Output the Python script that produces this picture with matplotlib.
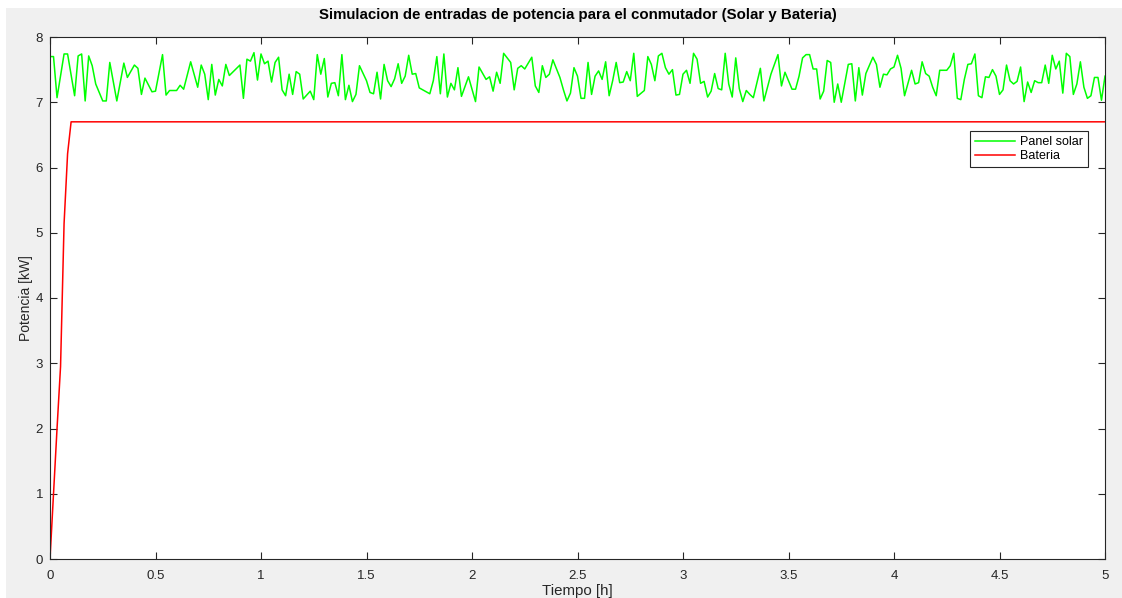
import numpy as np
import matplotlib.pyplot as plt
from matplotlib.patches import Rectangle

# minutos de simulacion y potencia del panel solar [kW]
solar_min = [0, 1, 2, 4, 5, 7, 8, 9, 10, 11, 12, 13, 15, 16, 17, 19, 21, 22, 24, 25,
             26, 27, 29, 30, 32, 33, 34, 36, 37, 38, 40, 42, 43, 44, 45, 46, 47, 48, 49, 50,
             51, 54, 55, 56, 57, 58, 59, 60, 61, 62, 63, 64, 65, 66, 67, 68, 69, 70, 71, 72,
             74, 75, 76, 77, 78, 79, 80, 81, 82, 83, 84, 85, 86, 87, 88, 90, 91, 92, 93, 94,
             95, 96, 97, 98, 99, 100, 101, 102, 103, 104, 105, 107, 108, 109, 110, 111, 112, 113, 114, 115,
             116, 117, 119, 121, 122, 124, 125, 126, 127, 128, 129, 131, 132, 133, 134, 135, 137, 138, 139, 140,
             141, 142, 143, 145, 146, 147, 148, 149, 150, 151, 152, 153, 154, 155, 156, 157, 158, 159, 160, 161,
             162, 163, 164, 165, 166, 167, 169, 170, 171, 172, 173, 174, 175, 176, 177, 178, 179, 180, 181, 182,
             183, 184, 185, 186, 187, 188, 189, 190, 191, 192, 193, 194, 195, 196, 197, 198, 199, 200, 202, 203,
             205, 207, 208, 209, 211, 212, 213, 214, 215, 216, 217, 218, 219, 220, 221, 222, 223, 224, 225, 227,
             228, 229, 230, 231, 232, 234, 235, 236, 237, 238, 239, 240, 241, 242, 243, 245, 246, 247, 248, 249,
             250, 251, 252, 253, 255, 256, 257, 258, 259, 260, 261, 262, 263, 264, 265, 266, 267, 268, 269, 270,
             271, 272, 273, 274, 275, 276, 277, 278, 279, 280, 281, 282, 283, 284, 285, 286, 287, 288, 289, 290,
             291, 292, 293, 294, 295, 296, 297, 298, 299, 300]
solar_kw = [7.70, 7.70, 7.07, 7.74, 7.74, 7.10, 7.71, 7.74, 7.02, 7.71, 7.56, 7.28, 7.02, 7.02, 7.61, 7.02, 7.60, 7.38, 7.57, 7.52,
            7.12, 7.37, 7.16, 7.17, 7.73, 7.11, 7.18, 7.18, 7.26, 7.20, 7.62, 7.23, 7.57, 7.43, 7.04, 7.58, 7.11, 7.35, 7.25, 7.58,
            7.41, 7.57, 7.06, 7.66, 7.63, 7.76, 7.34, 7.74, 7.59, 7.63, 7.31, 7.61, 7.69, 7.19, 7.10, 7.43, 7.12, 7.47, 7.43, 7.05,
            7.17, 7.04, 7.73, 7.43, 7.67, 7.08, 7.29, 7.30, 7.10, 7.73, 7.04, 7.26, 7.01, 7.12, 7.56, 7.33, 7.15, 7.13, 7.46, 7.05,
            7.58, 7.33, 7.24, 7.36, 7.59, 7.29, 7.40, 7.72, 7.43, 7.44, 7.22, 7.16, 7.13, 7.33, 7.70, 7.13, 7.74, 7.08, 7.29, 7.19,
            7.53, 7.09, 7.39, 7.01, 7.54, 7.35, 7.39, 7.17, 7.46, 7.29, 7.75, 7.61, 7.19, 7.52, 7.56, 7.51, 7.69, 7.25, 7.15, 7.56,
            7.38, 7.43, 7.65, 7.38, 7.19, 7.02, 7.14, 7.53, 7.40, 7.06, 7.06, 7.61, 7.12, 7.40, 7.48, 7.35, 7.62, 7.10, 7.33, 7.61,
            7.30, 7.31, 7.47, 7.33, 7.75, 7.09, 7.18, 7.70, 7.58, 7.33, 7.71, 7.75, 7.53, 7.43, 7.50, 7.11, 7.12, 7.43, 7.49, 7.29,
            7.75, 7.66, 7.29, 7.32, 7.08, 7.17, 7.44, 7.21, 7.19, 7.75, 7.28, 7.08, 7.68, 7.21, 7.01, 7.18, 7.12, 7.07, 7.52, 7.02,
            7.43, 7.73, 7.25, 7.46, 7.20, 7.20, 7.40, 7.68, 7.73, 7.73, 7.51, 7.51, 7.05, 7.17, 7.64, 7.61, 7.00, 7.28, 7.00, 7.58,
            7.59, 7.02, 7.53, 7.11, 7.44, 7.69, 7.58, 7.23, 7.43, 7.42, 7.51, 7.54, 7.72, 7.52, 7.10, 7.49, 7.28, 7.30, 7.62, 7.44,
            7.40, 7.23, 7.10, 7.49, 7.49, 7.56, 7.75, 7.06, 7.04, 7.35, 7.58, 7.59, 7.74, 7.10, 7.07, 7.39, 7.38, 7.50, 7.40, 7.12,
            7.19, 7.57, 7.33, 7.28, 7.32, 7.54, 7.01, 7.31, 7.15, 7.33, 7.30, 7.30, 7.57, 7.29, 7.72, 7.51, 7.63, 7.14, 7.75, 7.70,
            7.12, 7.28, 7.62, 7.23, 7.06, 7.10, 7.38, 7.38, 7.03, 7.40]

# bateria: rampa de carga y luego constante
bat_min = [0, 1, 2, 3, 4, 5, 6, 300]
bat_kw = [0.0, 1.0, 2.0, 2.95, 5.14, 6.21, 6.70, 6.70]

t_solar = np.array(solar_min) / 60.0
t_bat = np.array(bat_min) / 60.0

fig = plt.figure(figsize=(11.22, 5.98), dpi=100, facecolor='white')
fig.add_artist(Rectangle((6 / 1122, -0.01), 1.1, 590 / 598 + 0.01, transform=fig.transFigure,
                         facecolor='#f0f0f0', edgecolor='none', zorder=-10))
ax = fig.add_axes([50 / 1122, 39 / 598, 1055 / 1122, 522 / 598])
ax.set_facecolor('white')

ax.plot(t_solar, solar_kw, color=(0, 1, 0), linewidth=1.1, label='Panel solar')
ax.plot(t_bat, bat_kw, color=(1, 0, 0), linewidth=1.1, label='Bateria')

fam = ['Liberation Sans', 'DejaVu Sans']
ax.set_xlim(0, 5)
ax.set_ylim(0, 8)
ax.set_xticks(np.arange(0, 5.01, 0.5))
ax.set_xticklabels(['0', '0.5', '1', '1.5', '2', '2.5', '3', '3.5', '4', '4.5', '5'])
ax.set_yticks(range(0, 9))
ax.tick_params(direction='in', length=5, width=0.8, top=True, right=True,
               colors='#262626', labelsize=9.5)
ax.tick_params(axis='x', pad=8)
ax.tick_params(axis='y', pad=5)
for lbl in ax.get_xticklabels() + ax.get_yticklabels():
    lbl.set_family(fam)
for s in ax.spines.values():
    s.set_color('#262626')
    s.set_linewidth(0.8)

ax.set_title('Simulacion de entradas de potencia para el conmutador (Solar y Bateria)',
             fontsize=10.8, fontweight='bold', family=fam, pad=13)
ax.set_xlabel('Tiempo [h]', fontsize=10.8, family=fam, color='#262626', labelpad=1)
ax.set_ylabel('Potencia [kW]', fontsize=10, family=fam, color='#262626', labelpad=2)

leg = ax.legend(loc='upper right', bbox_to_anchor=(0.984, 0.82), borderaxespad=0,
                fancybox=False, edgecolor='#262626', framealpha=1, handlelength=3.2,
                prop={'family': fam, 'size': 9}, borderpad=0.4, labelspacing=0.2,
                handletextpad=0.4)
leg.get_frame().set_linewidth(0.8)

fig.savefig('out.png', dpi=100, facecolor=fig.get_facecolor())
